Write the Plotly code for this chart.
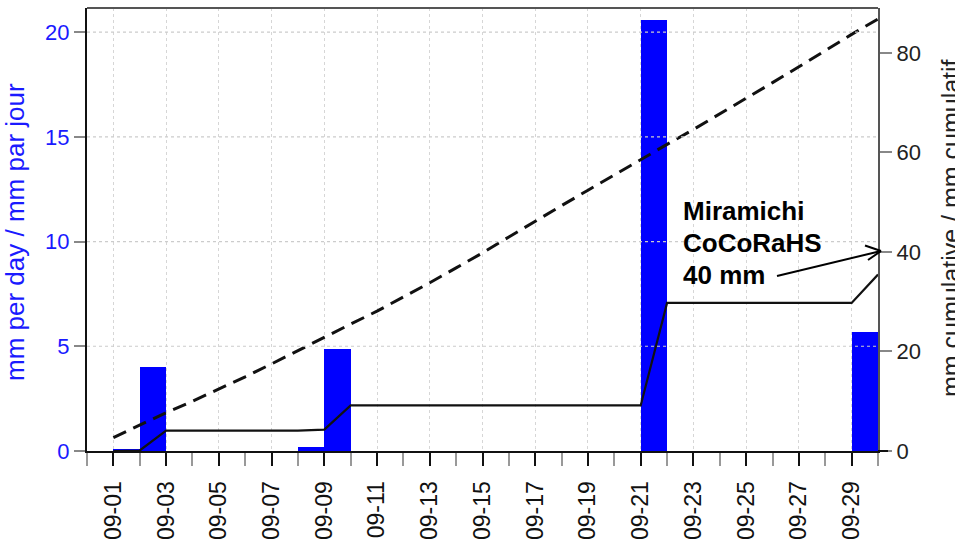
import numpy as np
import pandas as pd
import plotly.graph_objects as go

# ---- data ----
dates = pd.date_range("2023-09-01", "2023-09-30", freq="D")
daily_mm = [0.1, 4.0, 0, 0, 0, 0, 0, 0.2, 4.85, 0,
            0, 0, 0, 0, 0, 0, 0, 0, 0, 0,
            20.6, 0, 0, 0, 0, 0, 0, 0, 5.7, 0]
normal_cum_mm = [2.7, 5.2, 7.7, 10.0, 12.4, 14.9, 17.5, 20.2, 22.9, 25.5,
                 28.1, 30.9, 33.8, 36.8, 39.8, 43.0, 46.2, 49.3, 52.4, 55.5,
                 58.6, 61.6, 64.6, 67.7, 70.9, 74.0, 77.2, 80.5, 83.7, 86.8]
left_ticks = [0, 5, 10, 15, 20]
right_ticks = [0, 20, 40, 60, 80]
note_lines = ["Miramichi", "CoCoRaHS", "40 mm"]

# cumulative observed precipitation at the start of each day
obs_cum_mm = np.concatenate([[0.0], np.cumsum(daily_mm)[:-1]])

FONT = "Liberation Sans, Arial, sans-serif"
DAY_MS = 86400000

# pixel helpers for the plot frame (annotation placement only)
PL, PR, PT, PB = 87, 878, 8, 451
def px(xp):
    return (xp - PL) / (PR - PL)
def py(yp):
    return (PB - yp) / (PB - PT)

fig = go.Figure()
fig.add_trace(go.Bar(x=dates, y=daily_mm, width=DAY_MS, offset=0,
                     marker=dict(color="#0000ff", line=dict(width=0)),
                     yaxis="y", showlegend=False))
fig.add_trace(go.Scatter(x=dates, y=normal_cum_mm, mode="lines", yaxis="y2",
                         line=dict(color="#111111", width=3, dash="14px,8px"),
                         showlegend=False))
fig.add_trace(go.Scatter(x=dates, y=obs_cum_mm, mode="lines", yaxis="y2",
                         line=dict(color="#111111", width=2.2),
                         showlegend=False))

shapes = []
for v in left_ticks[1:]:
    shapes.append(dict(type="line", xref="paper", yref="y", x0=0, x1=1, y0=v, y1=v,
                       line=dict(color="#cccccc", width=1.2, dash="dot"), layer="above"))
shapes.append(dict(type="line", xref="paper", yref="paper", x0=0, x1=1, y0=1, y1=1,
                   line=dict(color="#555555", width=2)))
# bottom axis line runs a little past the right axis, as in the reference
shapes.append(dict(type="line", xref="paper", yref="paper", x0=1, x1=px(888), y0=0, y1=0,
                   line=dict(color="#111111", width=2)))
# arrow
shapes.append(dict(type="line", xref="paper", yref="paper",
                   x0=px(777), y0=py(276), x1=px(881), y1=py(251),
                   line=dict(color="black", width=2)))
shapes.append(dict(type="line", xref="paper", yref="paper",
                   x0=px(865), y0=py(245.5), x1=px(881), y1=py(251),
                   line=dict(color="black", width=2)))
shapes.append(dict(type="line", xref="paper", yref="paper",
                   x0=px(868), y0=py(260), x1=px(881), y1=py(251),
                   line=dict(color="black", width=2)))

annotations = []
for txt, yc in zip(note_lines, [210.5, 242.5, 274.7]):
    annotations.append(dict(text="<b>%s</b>" % txt, xref="paper", yref="paper",
                            x=px(681), y=py(yc), xanchor="left", yanchor="middle",
                            showarrow=False, font=dict(family=FONT, size=26, color="black")))
annotations.append(dict(text="mm per day / mm par jour", xref="paper", yref="paper",
                        x=px(15), y=py(232), textangle=-90, xanchor="center", yanchor="middle",
                        showarrow=False, font=dict(family=FONT, size=26, color="#1a1aff")))
annotations.append(dict(text="mm cumulative / mm cumulatif", xref="paper", yref="paper",
                        x=px(951), y=py(228), textangle=-90, xanchor="center", yanchor="middle",
                        showarrow=False, font=dict(family=FONT, size=25, color="#222222")))

fig.update_layout(
    width=955, height=549,
    margin=dict(l=PL, r=955 - PR, t=PT, b=549 - PB, pad=0, autoexpand=False),
    plot_bgcolor="white", paper_bgcolor="white",
    bargap=0,
    xaxis=dict(type="date", range=["2023-08-31", "2023-09-30"],
               tick0="2023-09-01", dtick=2 * DAY_MS, tickformat="%m-%d",
               tickangle=-90, ticks="outside", ticklen=13, tickwidth=2, tickcolor="#111111",
               ticklabelstandoff=6,
               showline=True, linecolor="#111111", linewidth=2,
               showgrid=True, gridcolor="#d6d6d6", gridwidth=1, griddash="dot",
               zeroline=False, automargin=False,
               minor=dict(tick0="2023-09-01", dtick=DAY_MS, ticks="outside", ticklen=13,
                          tickwidth=2, tickcolor="#999999", showgrid=False),
               tickfont=dict(family=FONT, size=23, color="#111111")),
    yaxis=dict(range=[0, 21.15], tickvals=left_ticks, ticks="outside", ticklen=11,
               tickwidth=2, tickcolor="#888888", showline=True, linecolor="#111111",
               linewidth=2, showgrid=False, zeroline=False, automargin=False,
               tickfont=dict(family=FONT, size=22, color="#1a1aff")),
    yaxis2=dict(range=[0, 89.0], tickvals=right_ticks, overlaying="y", side="right",
                ticks="outside", ticklen=12, tickwidth=2, tickcolor="#888888",
                showline=True, linecolor="#555555", linewidth=2, showgrid=False,
                zeroline=False, automargin=False,
                tickfont=dict(family=FONT, size=22, color="#222222")),
    shapes=shapes, annotations=annotations,
)

fig.write_html("out.html", config={"displayModeBar": False},
               post_script="document.body.style.margin='0';document.body.style.overflow='hidden';")
